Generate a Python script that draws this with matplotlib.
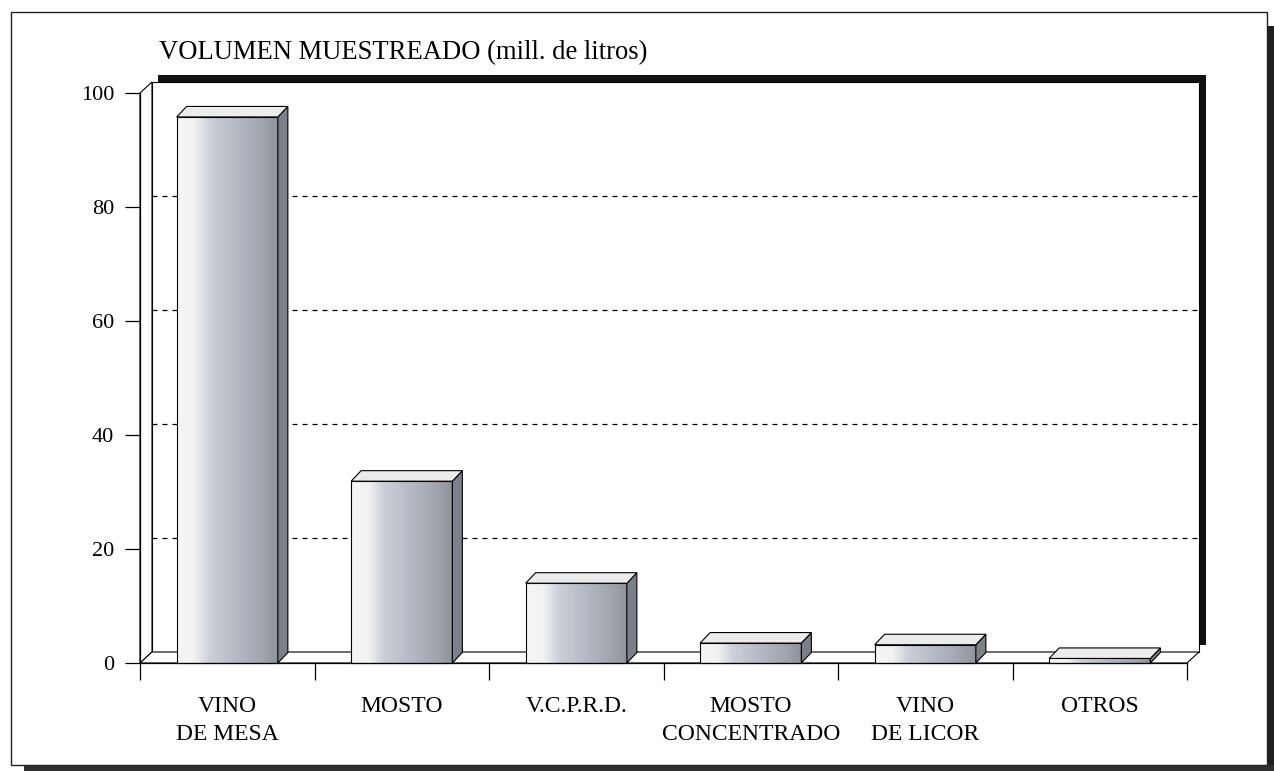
import matplotlib
matplotlib.use("Agg")
import matplotlib.pyplot as plt
import numpy as np
from matplotlib.patches import Polygon, Rectangle
from matplotlib.colors import LinearSegmentedColormap

categories = ["VINO\nDE MESA", "MOSTO", "V.C.P.R.D.", "MOSTO\nCONCENTRADO", "VINO\nDE LICOR", "OTROS"]
values = [95.8, 31.9, 14.0, 3.5, 3.2, 0.8]
yticks = [0, 20, 40, 60, 80, 100]
title = "VOLUMEN MUESTREADO (mill. de litros)"

FONT = ["Liberation Serif", "DejaVu Serif"]
W, H = 1274, 771
fig = plt.figure(figsize=(W / 100, H / 100), dpi=100)
fig.patch.set_facecolor("white")

def fx(px):
    return px / W

def fy(py):
    return 1 - py / H

PT = 0.72  # points per pixel at 100 dpi

# outer frame with drop shadow (figure fraction)
fig.patches.append(Rectangle((fx(24), fy(771)), fx(1274) - fx(24), fy(765) - fy(771),
                             transform=fig.transFigure, facecolor="#303030", edgecolor="none", zorder=-3))
fig.patches.append(Rectangle((fx(1267), fy(765)), fx(1274) - fx(1267), fy(26) - fy(765),
                             transform=fig.transFigure, facecolor="#202020", edgecolor="none", zorder=-3))
fig.patches.append(Rectangle((fx(11), fy(765)), fx(1267) - fx(11), fy(12) - fy(765),
                             transform=fig.transFigure, facecolor="white", edgecolor="#222222",
                             linewidth=1.0, zorder=-2))

left_px, right_px, bot_px, top_px = 140, 1187, 663, 93
ax = fig.add_axes([fx(left_px), fy(bot_px), fx(right_px) - fx(left_px), fy(top_px) - fy(bot_px)])
ax.set_zorder(2)
ax.set_xlim(0, len(categories))
ax.set_ylim(0, 100)
ax.set_facecolor("none")
for s in ["top", "right"]:
    ax.spines[s].set_visible(False)
for s in ["left", "bottom"]:
    ax.spines[s].set_linewidth(0.9)
    ax.spines[s].set_zorder(6)

ux = len(categories) / (right_px - left_px)   # data units per pixel (x)
uy = 100 / (bot_px - top_px)                  # data units per pixel (y)
n = len(categories)

# walls depth
dxw, dyw = 12 * ux, 11 * uy
# shadow of back wall
ax.add_patch(Rectangle((dxw + 6 * ux, dyw + 7 * uy), n + 1 * ux, 100, facecolor="#111111",
                       edgecolor="none", clip_on=False, zorder=1))
# back wall
ax.add_patch(Rectangle((dxw, dyw), n, 100, facecolor="white", edgecolor="black",
                       linewidth=0.8, clip_on=False, zorder=1.5))
# left wall
ax.add_patch(Polygon([(0, 0), (dxw, dyw), (dxw, 100 + dyw), (0, 100)], closed=True,
                     facecolor="white", edgecolor="black", linewidth=0.8, clip_on=False, zorder=2))
# floor
ax.add_patch(Polygon([(0, 0), (n, 0), (n + dxw, dyw), (dxw, dyw)], closed=True,
                     facecolor="white", edgecolor="black", linewidth=0.8, clip_on=False, zorder=2))
# gridlines on back wall
for v in yticks[1:-1]:
    ax.plot([dxw, n + dxw], [v + dyw, v + dyw], color="black", linewidth=0.9,
            linestyle=(0, (4, 4)), clip_on=False, zorder=2.5)

# bars
bw = 0.58
dxb, dyb = 10 * ux, 10.5 * uy
cmap = LinearSegmentedColormap.from_list("barg", [
    (0.0, "#f6f6f6"), (0.17, "#f2f2f3"), (0.32, "#cdd0d8"),
    (0.6, "#b4b8c2"), (0.85, "#a0a4ad"), (1.0, "#8e9299")])
grad = np.linspace(0, 1, 256).reshape(1, -1)
for i, v in enumerate(values):
    x0 = i + (1 - bw) / 2
    x1 = x0 + bw
    ax.imshow(grad, cmap=cmap, extent=(x0, x1, 0, v), aspect="auto", zorder=4,
              interpolation="bilinear", clip_on=False)
    ax.add_patch(Rectangle((x0, 0), bw, v, facecolor="none", edgecolor="black",
                           linewidth=0.8, zorder=4.5, clip_on=False))
    ax.add_patch(Polygon([(x1, 0), (x1 + dxb, dyb), (x1 + dxb, v + dyb), (x1, v)], closed=True,
                         facecolor="#7c8088", edgecolor="black", linewidth=0.8, zorder=4.5, clip_on=False))
    ax.add_patch(Polygon([(x0, v), (x1, v), (x1 + dxb, v + dyb), (x0 + dxb, v + dyb)], closed=True,
                         facecolor="#ececec", edgecolor="black", linewidth=0.8, zorder=4.5, clip_on=False))

ax.set_autoscale_on(False)
ax.set_xlim(0, n)
ax.set_ylim(0, 100)

# ticks
ax.set_yticks(yticks)
ax.set_yticklabels([str(t) for t in yticks], fontsize=16, family=FONT)
ax.tick_params(axis="y", length=15 * PT, width=0.9, pad=11 * PT, direction="out")
ax.set_xticks(np.arange(n + 1))
ax.set_xticklabels([])
ax.tick_params(axis="x", which="major", length=17 * PT, width=0.9, direction="out")
ax.set_xticks(np.arange(n) + 0.5, minor=True)
ax.set_xticklabels(categories, minor=True, fontsize=17, family=FONT, linespacing=1.42)
ax.tick_params(axis="x", which="minor", length=0, pad=24)

fig.text(fx(159), fy(53), title, fontsize=19.2, family=FONT, va="center", ha="left")

fig.savefig("out.png", dpi=100, facecolor="white")
